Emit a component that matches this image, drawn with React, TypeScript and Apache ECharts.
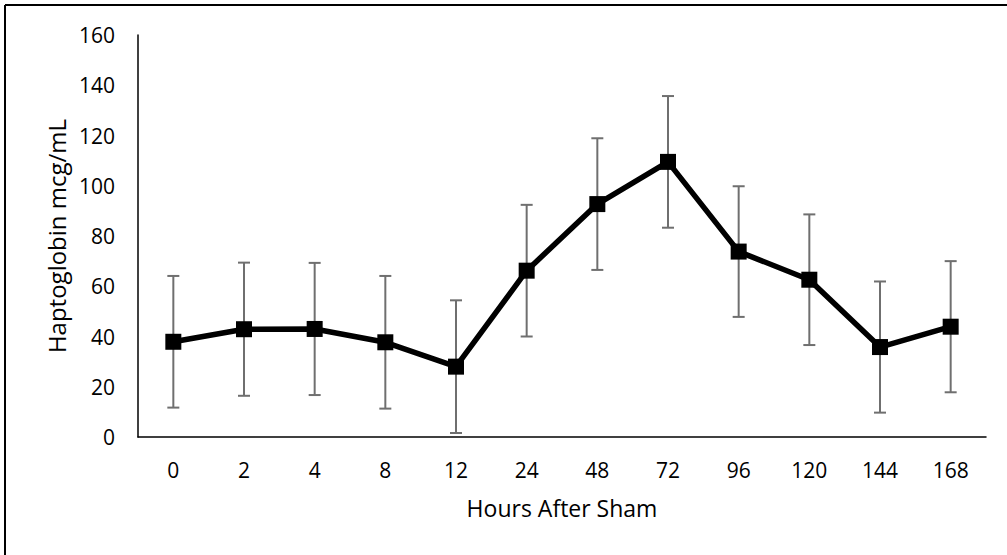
import React, { useEffect, useRef } from "react";
import * as echarts from "echarts";

const categories = ["0", "2", "4", "8", "12", "24", "48", "72", "96", "120", "144", "168"];
const means = [37.9, 42.9, 43, 37.7, 28, 66.2, 92.7, 109.5, 73.8, 62.6, 35.8, 43.9];
const errors = [26.2, 26.5, 26.3, 26.4, 26.4, 26.2, 26.2, 26.2, 26.0, 26.0, 26.1, 26.1];
const yTicks = { min: 0, max: 160, interval: 20 };
const xName = "Hours After Sham";
const yName = "Haptoglobin mcg/mL";

const FONT = "'Open Sans', sans-serif";

export default function App() {
  const ref = useRef<HTMLDivElement>(null);
  useEffect(() => {
    document.body.style.margin = "0";
    if (!ref.current) return;
    const chart = echarts.init(ref.current, null, { renderer: "svg" });
    const errData = means.map((m, i) => [i, m - errors[i], m + errors[i]]);
    chart.setOption({
      animation: false,
      backgroundColor: "#ffffff",
      textStyle: { fontFamily: FONT },
      grid: { left: 138, right: 21, top: 35, bottom: 118, containLabel: false },
      xAxis: {
        type: "category",
        data: categories,
        boundaryGap: true,
        name: xName,
        nameLocation: "middle",
        nameGap: 59,
        nameTextStyle: { fontSize: 23, color: "#000", fontFamily: FONT },
        axisLine: { lineStyle: { color: "#000", width: 1.5 } },
        axisTick: { show: false },
        axisLabel: { fontSize: 21, color: "#000", margin: 22, fontFamily: FONT },
        splitLine: { show: false },
      },
      yAxis: {
        type: "value",
        min: yTicks.min,
        max: yTicks.max,
        interval: yTicks.interval,
        name: yName,
        nameLocation: "middle",
        nameGap: 66,
        nameRotate: 90,
        nameTextStyle: { fontSize: 24, color: "#000", fontFamily: FONT },
        axisLine: { show: true, lineStyle: { color: "#000", width: 1.5 } },
        axisTick: { show: false },
        axisLabel: { fontSize: 21, color: "#000", margin: 23, fontFamily: FONT },
        splitLine: { show: false },
      },
      series: [
        {
          type: "custom",
          name: "err",
          z: 1,
          data: errData,
          encode: { x: 0, y: [1, 2] },
          renderItem: (params: any, api: any) => {
            const x = api.value(0);
            const lo = api.coord([x, api.value(1)]);
            const hi = api.coord([x, api.value(2)]);
            const hw = 6;
            const style = { stroke: "#6f6f6f", lineWidth: 2 };
            return {
              type: "group",
              children: [
                { type: "line", shape: { x1: lo[0], y1: lo[1], x2: hi[0], y2: hi[1] }, style },
                { type: "line", shape: { x1: lo[0] - hw, y1: lo[1], x2: lo[0] + hw, y2: lo[1] }, style },
                { type: "line", shape: { x1: hi[0] - hw, y1: hi[1], x2: hi[0] + hw, y2: hi[1] }, style },
              ],
            };
          },
        },
        {
          type: "line",
          name: "Haptoglobin",
          z: 3,
          data: means,
          symbol: "rect",
          symbolSize: 16,
          itemStyle: { color: "#000" },
          lineStyle: { color: "#000", width: 5.5 },
        },
      ],
      graphic: [
        { type: "line", shape: { x1: 5, y1: 5, x2: 1007, y2: 5 }, style: { stroke: "#000", lineWidth: 2 } },
        { type: "line", shape: { x1: 5, y1: 5, x2: 5, y2: 555 }, style: { stroke: "#000", lineWidth: 2 } },
      ],
    });
    return () => chart.dispose();
  }, []);
  return (
    <div
      ref={ref}
      style={{ width: 1007, height: 555, position: "absolute", left: 0, top: 0 }}
    />
  );
}
